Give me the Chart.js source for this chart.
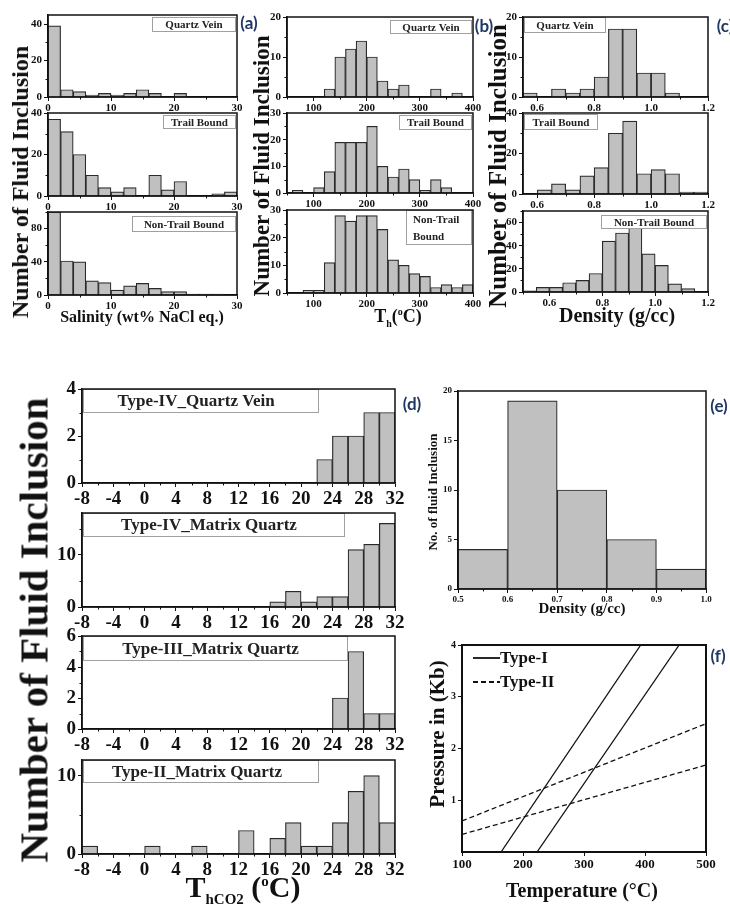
<!DOCTYPE html>
<html>
<head>
<meta charset="utf-8">
<script src="https://cdn.jsdelivr.net/npm/chart.js@4.4.1/dist/chart.umd.min.js"></script>
<style>
  html, body { margin: 0; padding: 0; background: #fff; }
  #page { position: relative; width: 730px; height: 909px; overflow: hidden; background: #fff; }
  #page canvas { position: absolute; }
  .t { position: absolute; white-space: nowrap; line-height: 1; color: #111;
       font-family: "Liberation Serif", "Times New Roman", serif; font-weight: bold;
       transform: translate(-50%, -50%); }
  .t.rot { transform: translate(-50%, -50%) rotate(-90deg); }
  .t.lab { font-family: Lato, "Open Sans", sans-serif; color: #1f3864; }
  .t sub, .t sup { line-height: 0; }
</style>
</head>
<body>
<div id="page"></div>
<script>
// ───────────────
// (a) salinity, wt% NaCl eq. – bin centres and counts
const salBins = [1, 3, 5, 7, 9, 11, 13, 15, 17, 19, 21, 23, 25, 27, 29];
const salQuartzVein = [39, 4, 3, 1, 2, 1, 2, 4, 2, 0, 2, 0, 0, 0, 0];
const salTrailBound = [37, 31, 20, 10, 4, 2, 4, 0, 10, 3, 7, 0, 0, 1, 2];
const salNonTrail   = [100, 41, 40, 17, 15, 6, 11, 14, 8, 4, 4, 1, 1, 1, 0];
const salTicks = [0, 10, 20, 30];

// (b) Th (°C)
const thBins = [70, 90, 110, 130, 150, 170, 190, 210, 230, 250, 270, 290, 310, 330, 350, 370, 390];
const thQuartzVein = [0, 0, 0, 2, 10, 12, 14, 10, 4, 2, 3, 0, 0, 2, 0, 1, 0];
const thTrailBound = [1, 0, 2, 8, 19, 19, 19, 25, 10, 6, 9, 5, 1, 5, 2, 0, 0];
const thNonTrail   = [0, 1, 1, 11, 28, 26, 28, 28, 23, 12, 10, 7, 6, 2, 3, 2, 3];
const thTicks = [100, 200, 300, 400];

// (c) density (g/cc)
const densBins = [0.575, 0.625, 0.675, 0.725, 0.775, 0.825, 0.875, 0.925, 0.975, 1.025, 1.075, 1.125, 1.175];
const densQuartzVein = [1, 0, 2, 1, 2, 5, 17, 17, 6, 6, 1, 0, 0];
const densTrailBound = [0, 2, 5, 2, 9, 13, 30, 36, 10, 12, 10, 1, 1];
const densBinsNT = [0.525, 0.575, 0.625, 0.675, 0.725, 0.775, 0.825, 0.875, 0.925, 0.975, 1.025, 1.075, 1.125, 1.175];
const densNonTrail = [1, 4, 4, 8, 10, 16, 44, 51, 56, 33, 23, 7, 3, 0];
const densTicks = [0.6, 0.8, 1.0, 1.2];

// (d) ThCO2 (°C)
const tco2Bins = [-7, -5, -3, -1, 1, 3, 5, 7, 9, 11, 13, 15, 17, 19, 21, 23, 25, 27, 29, 31];
const tIVQuartzVein  = [0, 0, 0, 0, 0, 0, 0, 0, 0, 0, 0, 0, 0, 0, 0, 1, 2, 2, 3, 3];
const tIVMatrix      = [0, 0, 0, 0, 0, 0, 0, 0, 0, 0, 0, 0, 1, 3, 1, 2, 2, 11, 12, 16];
const tIIIMatrix     = [0, 0, 0, 0, 0, 0, 0, 0, 0, 0, 0, 0, 0, 0, 0, 0, 2, 5, 1, 1];
const tIIMatrix      = [1, 0, 0, 0, 1, 0, 0, 1, 0, 0, 3, 0, 2, 4, 1, 1, 4, 8, 10, 4];
const tco2Ticks = [-8, -4, 0, 4, 8, 12, 16, 20, 24, 28, 32];

// (e) density of CO2 inclusions
const eBins = [0.55, 0.65, 0.75, 0.85, 0.95];
const eCounts = [4, 19, 10, 5, 2];
const eTicks = [0.5, 0.6, 0.7, 0.8, 0.9, 1.0];

// (f) isochores: temperature (°C) / pressure (Kb) end points
const typeI1T = [164, 393],  typeI1P = [0, 4];
const typeI2T = [223, 456],  typeI2P = [0, 4];
const typeII1T = [100, 500], typeII1P = [0.6, 2.48];
const typeII2T = [100, 500], typeII2P = [0.34, 1.68];
const fTicksT = [100, 200, 300, 400, 500];
const fTicksP = [1, 2, 3, 4];

// ───────────────
const SERIF = '"Liberation Serif", "Times New Roman", serif';
const page = document.getElementById('page');

// box round the plot area
const framePlugin = {
  id: 'frame',
  afterDraw(chart, args, opts) {
    const a = chart.chartArea, ctx = chart.ctx;
    ctx.save();
    ctx.strokeStyle = '#111';
    ctx.lineWidth = opts.width || 1.5;
    ctx.strokeRect(a.left, a.top, a.right - a.left, a.bottom - a.top);
    ctx.restore();
  }
};

// small unlabeled ticks between the major ones
const minorPlugin = {
  id: 'minor',
  afterDraw(chart, args, opts) {
    const ctx = chart.ctx, a = chart.chartArea;
    ctx.save();
    ctx.strokeStyle = '#111';
    ctx.lineWidth = 1;
    ['x', 'y'].forEach(k => {
      const step = opts[k];
      if (!step) return;
      const s = chart.scales[k];
      const major = s.ticks.map(t => t.value);
      const n0 = Math.ceil(s.min / step - 1e-6), n1 = Math.floor(s.max / step + 1e-6);
      for (let n = n0; n <= n1; n++) {
        const v = n * step;
        if (major.some(m => Math.abs(m - v) < step / 100)) continue;
        const p = Math.round(s.getPixelForValue(v)) + 0.5;
        ctx.beginPath();
        if (k === 'x') { ctx.moveTo(p, a.bottom); ctx.lineTo(p, a.bottom + 2.5); }
        else { ctx.moveTo(a.left, p); ctx.lineTo(a.left - 2.5, p); }
        ctx.stroke();
      }
    });
    ctx.restore();
  }
};

// the grey-bordered label box inside each histogram
const boxPlugin = {
  id: 'box',
  afterDatasetsDraw(chart, args, o) {
    if (!o || !o.text) return;
    const ctx = chart.ctx, a = chart.chartArea;
    const x = o.align === 'right' ? a.right - o.w - 1 : a.left + 1;
    const y = a.top + (o.dy || 0);
    ctx.save();
    ctx.fillStyle = '#fff';
    ctx.fillRect(x, y, o.w, o.h);
    ctx.strokeStyle = '#a0a0a0';
    ctx.lineWidth = 1;
    ctx.strokeRect(Math.round(x) + 0.5, Math.round(y) + 0.5, o.w - 1, o.h - 1);
    ctx.fillStyle = '#222';
    ctx.font = o.font;
    ctx.textBaseline = 'middle';
    const lines = o.text.split('\n');
    lines.forEach((ln, i) => {
      const ly = y + o.h * (i + 0.5) / lines.length + 1;
      if (o.pad != null) { ctx.textAlign = 'left'; ctx.fillText(ln, x + o.pad, ly); }
      else { ctx.textAlign = 'center'; ctx.fillText(ln, x + o.w / 2 + (o.shift || 0), ly); }
    });
    ctx.restore();
  }
};

Chart.register(framePlugin, minorPlugin, boxPlugin);

function makeCanvas(rect, m) {
  const cv = document.createElement('canvas');
  const W = rect.w + m.l + m.r, H = rect.h + m.t + m.b;
  cv.width = W; cv.height = H;
  cv.style.left = (rect.x - m.l) + 'px';
  cv.style.top = (rect.y - m.t) + 'px';
  cv.style.width = W + 'px';
  cv.style.height = H + 'px';
  page.appendChild(cv);
  return cv;
}

function axisX(min, max, ticks, fmt, font, h) {
  return {
    type: 'linear', min, max, offset: false,
    grid: { display: true, drawOnChartArea: false, drawTicks: true, tickLength: 4, color: '#111', lineWidth: 1, offset: false },
    border: { display: true, color: '#111', width: 1.5 },
    ticks: { autoSkip: false, maxRotation: 0, minRotation: 0, padding: 1, color: '#111', font,
             callback: fmt || (v => v) },
    afterBuildTicks: s => { s.ticks = ticks.map(v => ({ value: v })); },
    afterFit: s => { s.height = h; }
  };
}

function axisY(max, ticks, font, w) {
  return {
    type: 'linear', min: 0, max,
    grid: { display: true, drawOnChartArea: false, drawTicks: true, tickLength: 4, color: '#111', lineWidth: 1 },
    border: { display: true, color: '#111', width: 1.5 },
    ticks: { autoSkip: false, padding: 2, color: '#111', font },
    afterBuildTicks: s => { s.ticks = ticks.map(v => ({ value: v })); },
    afterFit: s => { s.width = w; }
  };
}

function hist(rect, m, bins, vals, o) {
  const cv = makeCanvas(rect, m);
  new Chart(cv, {
    type: 'bar',
    data: {
      datasets: [{
        data: bins.map((b, i) => ({ x: b, y: vals[i] })),
        backgroundColor: '#c0c0c0',
        borderColor: '#2a2a2a',
        borderWidth: 1.2,
        barPercentage: 1,
        categoryPercentage: 1
      }]
    },
    options: {
      responsive: false, animation: false, devicePixelRatio: 1,
      layout: { padding: { top: m.t, right: m.r, left: 0, bottom: 0 } },
      plugins: {
        legend: { display: false }, tooltip: { enabled: false },
        box: o.box, minor: o.minor || {}, frame: {}
      },
      scales: {
        x: axisX(o.xmin, o.xmax, o.xticks, o.xfmt, o.font, m.b),
        y: axisY(o.ymax, o.yticks, o.yfont || o.font, m.l)
      }
    }
  });
}

function text(html, x, y, size, cls) {
  const d = document.createElement('div');
  d.className = 't' + (cls ? ' ' + cls : '');
  d.style.left = x + 'px';
  d.style.top = y + 'px';
  d.style.fontSize = size + 'px';
  d.innerHTML = html;
  page.appendChild(d);
}

// ───────────────
// top row: (a) (b) (c)
const small = { family: SERIF, weight: 'bold', size: 11 };
const boxFont = 'bold 11px ' + SERIF;
const mTop = { l: 40, r: 22, t: 12, b: 22 };
const fix1 = v => v.toFixed(1);

const aX = 48, aW = 189;
hist({ x: aX, y: 15, w: aW, h: 82 }, mTop, salBins, salQuartzVein,
  { xmin: 0, xmax: 30, xticks: salTicks, ymax: 45, yticks: [0, 20, 40], font: small,
    minor: { x: 5, y: 10 }, box: { text: 'Quartz Vein', align: 'right', w: 84, h: 15, dy: 2, font: boxFont } });
hist({ x: aX, y: 113, w: aW, h: 83 }, mTop, salBins, salTrailBound,
  { xmin: 0, xmax: 30, xticks: salTicks, ymax: 40, yticks: [0, 20, 40], font: small,
    minor: { x: 5, y: 10 }, box: { text: 'Trail Bound', align: 'right', w: 73, h: 14, dy: 2, font: boxFont } });
hist({ x: aX, y: 212, w: aW, h: 83 }, mTop, salBins, salNonTrail,
  { xmin: 0, xmax: 30, xticks: salTicks, ymax: 100, yticks: [0, 40, 80], font: small,
    minor: { x: 5, y: 20 }, box: { text: 'Non-Trail Bound', align: 'right', w: 104, h: 16, dy: 4, font: boxFont } });

const bX = 287, bW = 186;
hist({ x: bX, y: 17, w: bW, h: 80 }, mTop, thBins, thQuartzVein,
  { xmin: 50, xmax: 400, xticks: thTicks, ymax: 20, yticks: [0, 10, 20], font: small,
    minor: { x: 50, y: 5 }, box: { text: 'Quartz Vein', align: 'right', w: 82, h: 14, dy: 3, font: boxFont } });
hist({ x: bX, y: 113, w: bW, h: 80 }, mTop, thBins, thTrailBound,
  { xmin: 50, xmax: 400, xticks: thTicks, ymax: 30, yticks: [0, 10, 20, 30], font: small,
    minor: { x: 50, y: 5 }, box: { text: 'Trail Bound', align: 'right', w: 73, h: 15, dy: 2, font: boxFont } });
hist({ x: bX, y: 210, w: bW, h: 83 }, mTop, thBins, thNonTrail,
  { xmin: 50, xmax: 400, xticks: thTicks, ymax: 30, yticks: [0, 10, 20, 30], font: small,
    minor: { x: 50, y: 5 }, box: { text: 'Non-Trail\nBound', align: 'right', w: 66, h: 35, dy: 0, pad: 7, font: boxFont } });

const cX = 523, cW = 185;
hist({ x: cX, y: 17, w: cW, h: 80 }, mTop, densBins, densQuartzVein,
  { xmin: 0.55, xmax: 1.2, xticks: densTicks, xfmt: fix1, ymax: 20, yticks: [0, 10, 20], font: small,
    minor: { x: 0.1, y: 5 }, box: { text: 'Quartz Vein', align: 'left', w: 82, h: 16, dy: 0, font: boxFont } });
hist({ x: cX, y: 113, w: cW, h: 81 }, mTop, densBins, densTrailBound,
  { xmin: 0.55, xmax: 1.2, xticks: densTicks, xfmt: fix1, ymax: 40, yticks: [0, 20, 40], font: small,
    minor: { x: 0.1, y: 10 }, box: { text: 'Trail Bound', align: 'left', w: 74, h: 16, dy: 1, font: boxFont } });
hist({ x: cX, y: 211, w: cW, h: 81 }, mTop, densBinsNT, densNonTrail,
  { xmin: 0.5, xmax: 1.2, xticks: densTicks, xfmt: fix1, ymax: 70, yticks: [0, 20, 40, 60], font: small,
    minor: { x: 0.1, y: 10 }, box: { text: 'Non-Trail Bound', align: 'right', w: 106, h: 14, dy: 4, font: boxFont } });

// ───────────────
// (d) four ThCO2 histograms
const big = { family: SERIF, weight: 'bold', size: 19 };
const dBoxFont = 'bold 17px ' + SERIF;
const mD = { l: 40, r: 22, t: 14, b: 30 };
const dX = 82, dW = 313;
hist({ x: dX, y: 389, w: dW, h: 94 }, mD, tco2Bins, tIVQuartzVein,
  { xmin: -8, xmax: 32, xticks: tco2Ticks, ymax: 4, yticks: [0, 2, 4], font: big,
    minor: { x: 2, y: 1 }, box: { text: 'Type-IV_Quartz Vein', align: 'left', w: 236, h: 24, dy: 0, shift: -5, font: dBoxFont } });
hist({ x: dX, y: 513, w: dW, h: 94 }, mD, tco2Bins, tIVMatrix,
  { xmin: -8, xmax: 32, xticks: tco2Ticks, ymax: 18, yticks: [0, 10], font: big,
    minor: { x: 2, y: 5 }, box: { text: 'Type-IV_Matrix Quartz', align: 'left', w: 262, h: 24, dy: 0, shift: -5, font: dBoxFont } });
hist({ x: dX, y: 636, w: dW, h: 93 }, mD, tco2Bins, tIIIMatrix,
  { xmin: -8, xmax: 32, xticks: tco2Ticks, ymax: 6, yticks: [0, 2, 4, 6], font: big,
    minor: { x: 2, y: 1 }, box: { text: 'Type-III_Matrix Quartz', align: 'left', w: 265, h: 25, dy: 0, shift: -5, font: dBoxFont } });
hist({ x: dX, y: 760, w: dW, h: 94 }, mD, tco2Bins, tIIMatrix,
  { xmin: -8, xmax: 32, xticks: tco2Ticks, ymax: 12, yticks: [0, 10], font: big,
    minor: { x: 2, y: 5 }, box: { text: 'Type-II_Matrix Quartz', align: 'left', w: 236, h: 23, dy: 0, shift: -4, font: dBoxFont } });

// ───────────────
// (e) density histogram
hist({ x: 458, y: 391, w: 248, h: 198 }, { l: 30, r: 16, t: 10, b: 20 }, eBins, eCounts,
  { xmin: 0.5, xmax: 1.0, xticks: eTicks, xfmt: fix1, ymax: 20, yticks: [0, 5, 10, 15, 20],
    font: { family: SERIF, weight: 'bold', size: 9 }, minor: { x: 0.05 } });

// ───────────────
// (f) isochores
const lineLegend = {
  id: 'lineLegend',
  afterDraw(chart) {
    const ctx = chart.ctx, a = chart.chartArea;
    const seen = [];
    chart.data.datasets.forEach(ds => {
      if (seen.includes(ds.label)) return;
      const y = a.top + 13 + seen.length * 24;
      seen.push(ds.label);
      ctx.save();
      ctx.strokeStyle = ds.borderColor;
      ctx.lineWidth = 1.8;
      ctx.setLineDash(ds.borderDash || []);
      ctx.beginPath();
      ctx.moveTo(a.left + 11, y); ctx.lineTo(a.left + 38, y);
      ctx.stroke();
      ctx.setLineDash([]);
      ctx.fillStyle = '#111';
      ctx.font = 'bold 17px ' + SERIF;
      ctx.textBaseline = 'middle';
      ctx.fillText(ds.label, a.left + 38, y + 1);
      ctx.restore();
    });
  }
};

const pts = (xs, ys) => xs.map((x, i) => ({ x, y: ys[i] }));
const fRect = { x: 462, y: 645, w: 244, h: 207 }, mF = { l: 34, r: 20, t: 10, b: 26 };
const fCv = makeCanvas(fRect, mF);
const solid = { borderColor: '#111', borderWidth: 1.3, pointRadius: 0, fill: false };
const dashed = { borderColor: '#111', borderWidth: 1.3, pointRadius: 0, fill: false, borderDash: [5, 3] };
new Chart(fCv, {
  type: 'line',
  data: {
    datasets: [
      { label: 'Type-I', data: pts(typeI1T, typeI1P), ...solid },
      { label: 'Type-I', data: pts(typeI2T, typeI2P), ...solid },
      { label: 'Type-II', data: pts(typeII1T, typeII1P), ...dashed },
      { label: 'Type-II', data: pts(typeII2T, typeII2P), ...dashed }
    ]
  },
  options: {
    responsive: false, animation: false, devicePixelRatio: 1,
    layout: { padding: { top: mF.t, right: mF.r, left: 0, bottom: 0 } },
    plugins: { legend: { display: false }, tooltip: { enabled: false }, frame: { width: 2 } },
    scales: {
      x: axisX(100, 500, fTicksT, null, { family: SERIF, weight: 'bold', size: 13 }, mF.b),
      y: axisY(4, fTicksP, { family: SERIF, weight: 'bold', size: 10 }, mF.l)
    }
  },
  plugins: [lineLegend]
});

// ───────────────
// axis titles and panel letters
text('Number of Fluid Inclusion', 20, 182, 24, 'rot');
text('Number of Fluid Inclusion', 261, 166, 23, 'rot');
text('Number of Fluid Inclusion', 497, 166, 25, 'rot');
text('Salinity (wt% NaCl eq.)', 142, 317, 16);
text('T<sub style="font-size:10px">h</sub>(<sup style="font-size:10px">o</sup>C)', 398, 316, 18);
text('Density (g/cc)', 617, 315, 20);

text('Number of Fluid Inclusion', 34, 630, 41, 'rot');
text('T<sub style="font-size:15px">hCO2</sub> (<sup style="font-size:15px">o</sup>C)', 243, 887, 30);

text('No. of fluid Inclusion', 432, 492, 13, 'rot');
text('Density (g/cc)', 582, 608, 15);

text('Pressure in (Kb)', 437, 734, 21, 'rot');
text('Temperature (°C)', 582, 890, 20);

text('(a)', 249, 22, 17, 'lab');
text('(b)', 484, 25, 17, 'lab');
text('(c)', 725, 25, 17, 'lab');
text('(d)', 412, 403, 17, 'lab');
text('(e)', 719, 405, 17, 'lab');
text('(f)', 718, 655, 17, 'lab');
</script>
</body>
</html>
